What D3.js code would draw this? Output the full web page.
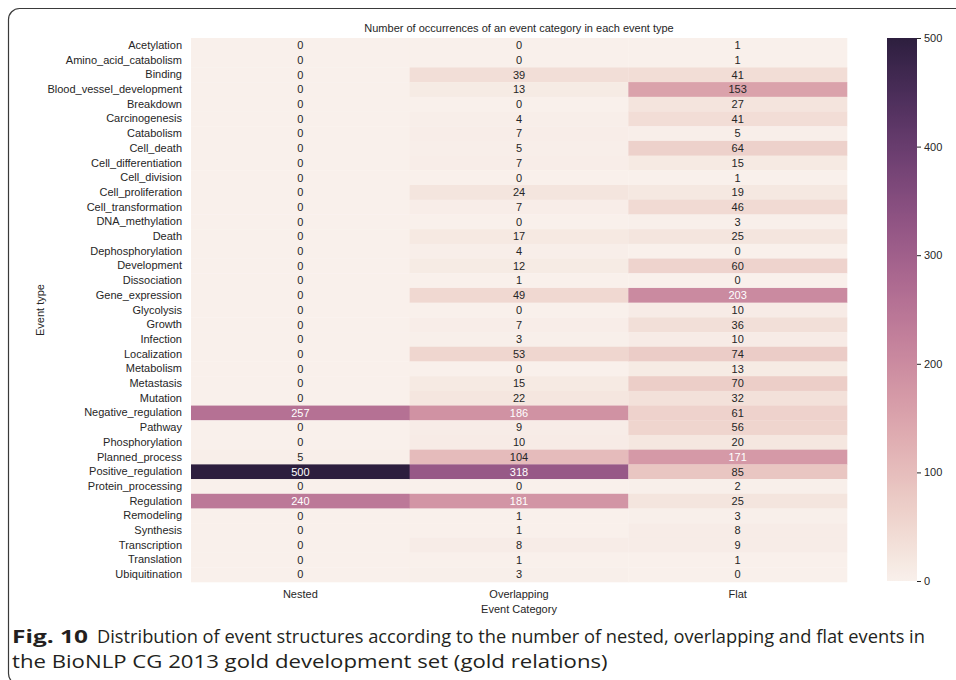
<!DOCTYPE html>
<html>
<head>
<meta charset="utf-8">
<script src="https://cdn.jsdelivr.net/npm/d3@7/dist/d3.min.js"></script>
<style>
  html, body { margin: 0; padding: 0; background: #fff; }
  svg { display: block; }
  .lbl { font-family: "Liberation Sans", Arial, sans-serif; font-size: 11px; fill: #262626; }
  .cap { font-family: "Open Sans", "Noto Sans", sans-serif; font-size: 18px; fill: #231f20; }
</style>
</head>
<body>
<svg id="chart" width="956" height="680"></svg>
<script>
// Event types (rows) and event categories (columns)
const eventTypes = [
  "Acetylation", "Amino_acid_catabolism", "Binding", "Blood_vessel_development",
  "Breakdown", "Carcinogenesis", "Catabolism", "Cell_death", "Cell_differentiation",
  "Cell_division", "Cell_proliferation", "Cell_transformation", "DNA_methylation",
  "Death", "Dephosphorylation", "Development", "Dissociation", "Gene_expression",
  "Glycolysis", "Growth", "Infection", "Localization", "Metabolism", "Metastasis",
  "Mutation", "Negative_regulation", "Pathway", "Phosphorylation", "Planned_process",
  "Positive_regulation", "Protein_processing", "Regulation", "Remodeling", "Synthesis",
  "Transcription", "Translation", "Ubiquitination"
];
const categories = ["Nested", "Overlapping", "Flat"];

// Counts per category, in the order of eventTypes
const nested = [0,0,0,0,0,0,0,0,0,0,0,0,0,0,0,0,0,0,0,0,0,0,0,0,0,257,0,0,5,500,0,240,0,0,0,0,0];
const overlapping = [0,0,39,13,0,4,7,5,7,0,24,7,0,17,4,12,1,49,0,7,3,53,0,15,22,186,9,10,104,318,0,181,1,1,8,1,3];
const flat = [1,1,41,153,27,41,5,64,15,1,19,46,3,25,0,60,0,203,10,36,10,74,13,70,32,61,56,20,171,85,2,25,3,8,9,1,0];

const colorbarTicks = [0, 100, 200, 300, 400, 500];
const vmax = 500;

const seriesByCategory = { Nested: nested, Overlapping: overlapping, Flat: flat };

// Cubehelix colormap (start 0, rot 0.4, hue 0.8, light .95 -> dark .15), 256 levels
function cubehelixRGB(x) {
  const start = 0, rot = 0.4, gamma = 1, hue = 0.8;
  const xg = Math.pow(x, gamma);
  const a = hue * xg * (1 - xg) / 2;
  const phi = 2 * Math.PI * (start / 3 + rot * x);
  const ch = (p0, p1) => Math.max(0, Math.min(1, xg + a * (p0 * Math.cos(phi) + p1 * Math.sin(phi))));
  return [ch(-0.14861, 1.78277), ch(-0.29227, -0.90649), ch(1.97294, 0.0)];
}
const light = 0.95, dark = 0.15, nLevels = 256;
const lut = d3.range(nLevels).map(i => cubehelixRGB(light + (dark - light) * i / (nLevels - 1)));
function colorRGB(v) {
  const t = Math.max(0, Math.min(1, v / vmax));
  const idx = Math.min(nLevels - 1, Math.floor(t * nLevels));
  return lut[idx];
}
const toCss = rgb => d3.rgb(rgb[0] * 255, rgb[1] * 255, rgb[2] * 255).formatHex();
function luminance(rgb) {
  const lin = rgb.map(c => c <= 0.03928 ? c / 12.92 : Math.pow((c + 0.055) / 1.055, 2.4));
  return 0.2126 * lin[0] + 0.7152 * lin[1] + 0.0722 * lin[2];
}

const svg = d3.select("#chart");

// Figure frame with rounded corners
svg.append("rect")
  .attr("x", 8.5).attr("y", 8.5)
  .attr("width", 1000).attr("height", 676)
  .attr("rx", 11).attr("ry", 11)
  .attr("fill", "none").attr("stroke", "#3a3a3a").attr("stroke-width", 1.2);

const plot = { left: 191, right: 847, top: 38, bottom: 582 };

const x = d3.scaleBand().domain(categories).range([plot.left, plot.right]);
const y = d3.scaleBand().domain(eventTypes).range([plot.top, plot.bottom]);

const cells = [];
categories.forEach(c => {
  eventTypes.forEach((t, i) => cells.push({ cat: c, type: t, value: seriesByCategory[c][i] }));
});

const g = svg.append("g");
g.selectAll("rect.cell").data(cells).enter().append("rect")
  .attr("class", "cell")
  .attr("x", d => x(d.cat))
  .attr("y", d => y(d.type))
  .attr("width", x.bandwidth() + 0.3)
  .attr("height", y.bandwidth() + 0.3)
  .attr("fill", d => toCss(colorRGB(d.value)));

g.selectAll("text.val").data(cells).enter().append("text")
  .attr("class", "lbl")
  .attr("x", d => x(d.cat) + x.bandwidth() / 2)
  .attr("y", d => y(d.type) + y.bandwidth() / 2)
  .attr("text-anchor", "middle")
  .attr("dy", "0.35em")
  .style("fill", d => luminance(colorRGB(d.value)) > 0.408 ? "#262626" : "#ffffff")
  .text(d => d.value);

// Row axis
const yAxis = d3.axisLeft(y).tickSize(0).tickPadding(9);
const yg = svg.append("g").attr("transform", `translate(${plot.left},0)`).call(yAxis);
yg.select(".domain").remove();
yg.selectAll("text").attr("class", "lbl").attr("font-family", null).attr("font-size", null);

// Column axis
const xAxis = d3.axisBottom(x).tickSize(0).tickPadding(8);
const xg = svg.append("g").attr("transform", `translate(0,${plot.bottom})`).call(xAxis);
xg.select(".domain").remove();
xg.selectAll("text").attr("class", "lbl").attr("font-family", null).attr("font-size", null);

// Titles
svg.append("text").attr("class", "lbl")
  .attr("x", (plot.left + plot.right) / 2).attr("y", 32)
  .attr("text-anchor", "middle")
  .text("Number of occurrences of an event category in each event type");
svg.append("text").attr("class", "lbl")
  .attr("x", (plot.left + plot.right) / 2).attr("y", 613)
  .attr("text-anchor", "middle")
  .text("Event Category");
svg.append("text").attr("class", "lbl")
  .attr("transform", `translate(44,${(plot.top + plot.bottom) / 2}) rotate(-90)`)
  .attr("text-anchor", "middle")
  .text("Event type");

// Colorbar
const cb = { x: 887, w: 30, top: 38, bottom: 581 };
const cbScale = d3.scaleLinear().domain([0, vmax]).range([cb.bottom, cb.top]);
const defs = svg.append("defs");
const grad = defs.append("linearGradient").attr("id", "cbgrad")
  .attr("x1", 0).attr("y1", 1).attr("x2", 0).attr("y2", 0);
lut.forEach((c, i) => {
  grad.append("stop").attr("offset", i / (nLevels - 1)).attr("stop-color", toCss(c));
});
svg.append("rect")
  .attr("x", cb.x).attr("y", cb.top)
  .attr("width", cb.w).attr("height", cb.bottom - cb.top)
  .attr("fill", "url(#cbgrad)");
const cbAxis = d3.axisRight(cbScale).tickValues(colorbarTicks).tickSize(4).tickPadding(3);
const cbg = svg.append("g").attr("transform", `translate(${cb.x + cb.w},0)`).call(cbAxis);
cbg.select(".domain").remove();
cbg.selectAll("line").attr("stroke", "#262626");
cbg.selectAll("text").attr("class", "lbl").attr("font-family", null).attr("font-size", null);

// Caption: each piece is fitted horizontally into its span with a scale transform
function captionPiece(str, x0, x1, baseline, bold) {
  const t = svg.append("text").attr("class", "cap")
    .attr("x", 0).attr("y", 0)
    .attr("font-weight", bold ? "bold" : null)
    .text(str);
  const natural = t.node().getComputedTextLength();
  const sx = (x1 - x0) / natural;
  t.attr("transform", `translate(${x0},${baseline}) scale(${sx},1)`);
}
captionPiece("Fig. 10", 12, 88, 643, true);
captionPiece("Distribution of event structures according to the number of nested, overlapping and flat events in", 97, 926, 643, false);
captionPiece("the BioNLP CG 2013 gold development set (gold relations)", 12, 608, 668, false);
</script>
</body>
</html>
